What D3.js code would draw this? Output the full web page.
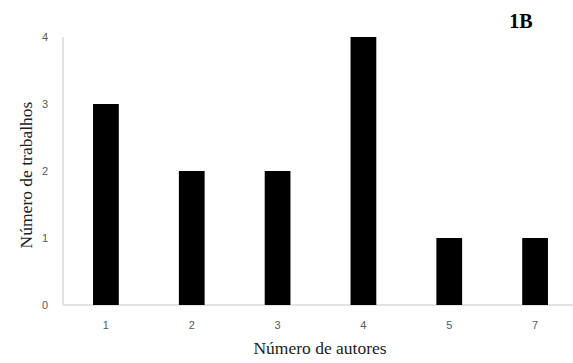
<!DOCTYPE html>
<html><head><meta charset="utf-8">
<script src="https://cdn.jsdelivr.net/npm/d3@7"></script>
<style>body{margin:0;background:#fff}</style>
</head><body>
<svg id="c" width="573" height="363"></svg>
<script>
const categories = ["1","2","3","4","5","7"];
const values = [3,2,2,4,1,1];
const yTicks = [0,1,2,3,4];

const svg = d3.select("#c");
const x = d3.scaleBand().domain(categories).range([63,578]).paddingInner(0.7).paddingOuter(0.35);
const y = d3.scaleLinear().domain([0,4]).range([305,37]);

svg.append("line").attr("x1",63).attr("x2",573).attr("y1",y(0)).attr("y2",y(0)).attr("stroke","#d9d9d9").attr("stroke-width",1.5);
svg.append("line").attr("x1",63).attr("x2",63).attr("y1",y(0)).attr("y2",y(4)).attr("stroke","#d9d9d9").attr("stroke-width",1.5);

svg.selectAll("rect.bar").data(values).join("rect").attr("class","bar")
  .attr("x",(d,i)=>x(categories[i])).attr("width",x.bandwidth())
  .attr("y",d=>y(d)).attr("height",d=>y(0)-y(d)).attr("fill","#000");

svg.selectAll("text.yt").data(yTicks).join("text").attr("class","yt")
  .attr("x",48).attr("y",d=>y(d)+4).attr("text-anchor","end")
  .attr("font-family","Liberation Sans, Arial, sans-serif").attr("font-size",11).attr("fill","#595959").text(d=>d);

svg.selectAll("text.xt").data(categories).join("text").attr("class","xt")
  .attr("x",d=>x(d)+x.bandwidth()/2).attr("y",329).attr("text-anchor","middle")
  .attr("font-family","Liberation Sans, Arial, sans-serif").attr("font-size",11).attr("fill","#595959").text(d=>d);

svg.append("text").attr("x",320).attr("y",354).attr("text-anchor","middle")
  .attr("font-family","Liberation Serif, Times New Roman, serif").attr("font-size",17.5).attr("fill","#222").text("Número de autores");

svg.append("text").attr("transform","translate(32,175) rotate(-90)").attr("text-anchor","middle")
  .attr("font-family","Liberation Serif, Times New Roman, serif").attr("font-size",17.5).attr("fill","#222").text("Número de trabalhos");

svg.append("text").attr("x",521).attr("y",28).attr("text-anchor","middle")
  .attr("font-family","Liberation Serif, Times New Roman, serif").attr("font-size",20).attr("font-weight","bold").attr("fill","#000").text("1B");
</script>
</body></html>
